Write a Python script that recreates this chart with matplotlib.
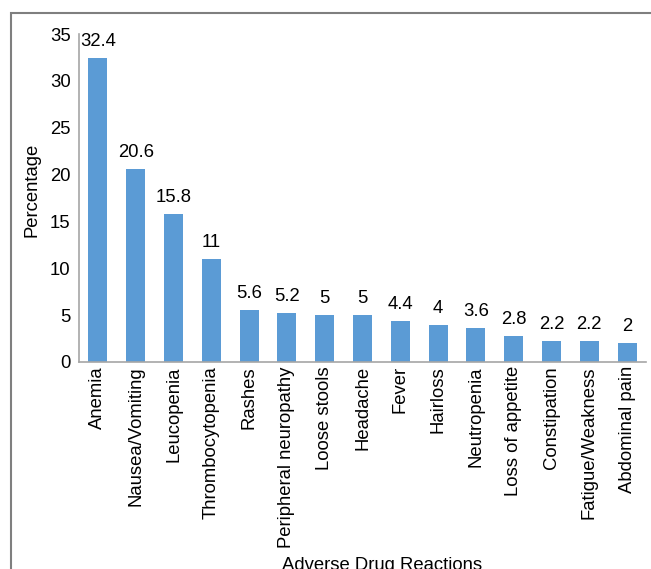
import matplotlib.pyplot as plt
from matplotlib.patches import Rectangle

# Adverse drug reactions (%)
reactions = ["Anemia", "Nausea/Vomiting", "Leucopenia", "Thrombocytopenia",
             "Rashes", "Peripheral neuropathy", "Loose stools", "Headache",
             "Fever", "Hairloss", "Neutropenia", "Loss of appetite",
             "Constipation", "Fatigue/Weakness", "Abdominal pain"]
percent = [32.4, 20.6, 15.8, 11, 5.6, 5.2, 5, 5, 4.4, 4, 3.6, 2.8, 2.2, 2.2, 2]
yticks = [0, 5, 10, 15, 20, 25, 30, 35]

FS = 13.3
plt.rcParams['font.family'] = ['Liberation Sans', 'DejaVu Sans']
plt.rcParams['font.size'] = FS

fig = plt.figure(figsize=(6.51, 5.69), dpi=100)
ax = fig.add_axes([0.1214, 0.3638, 0.8709, 0.5764])

# outer frame around the chart area
frame = Rectangle((11 / 651, -0.2), 1.0, 1.2 - 13 / 569, transform=fig.transFigure,
                  fill=False, edgecolor='#7f7f7f', linewidth=1.5)
fig.patches.append(frame)

x = range(len(reactions))
bars = ax.bar(x, percent, width=0.5, color='#5b9bd5')

for b, v in zip(bars, percent):
    ax.text(b.get_x() + b.get_width() / 2, v + 0.85, f"{v:g}",
            ha='center', va='bottom', fontsize=FS)

ax.set_xlim(-0.5, len(reactions) - 0.5)
ax.set_ylim(0, 35)
ax.set_yticks(yticks)
ax.set_xticks(list(x))
ax.set_xticklabels(reactions, rotation=90)
ax.tick_params(axis='both', length=0, labelsize=FS)
ax.tick_params(axis='y', pad=6)
ax.tick_params(axis='x', pad=3)

for s in ['top', 'right']:
    ax.spines[s].set_visible(False)
for s in ['left', 'bottom']:
    ax.spines[s].set_color('#a6a6a6')
    ax.spines[s].set_linewidth(1.2)

fig.text(32 / 651, 1 - 190 / 569, "Percentage", rotation=90, ha='center', va='center', fontsize=FS)
fig.text(382 / 651, 1 - 565 / 569, "Adverse Drug Reactions", ha='center', va='center', fontsize=FS)

fig.savefig("out.png", dpi=100)
